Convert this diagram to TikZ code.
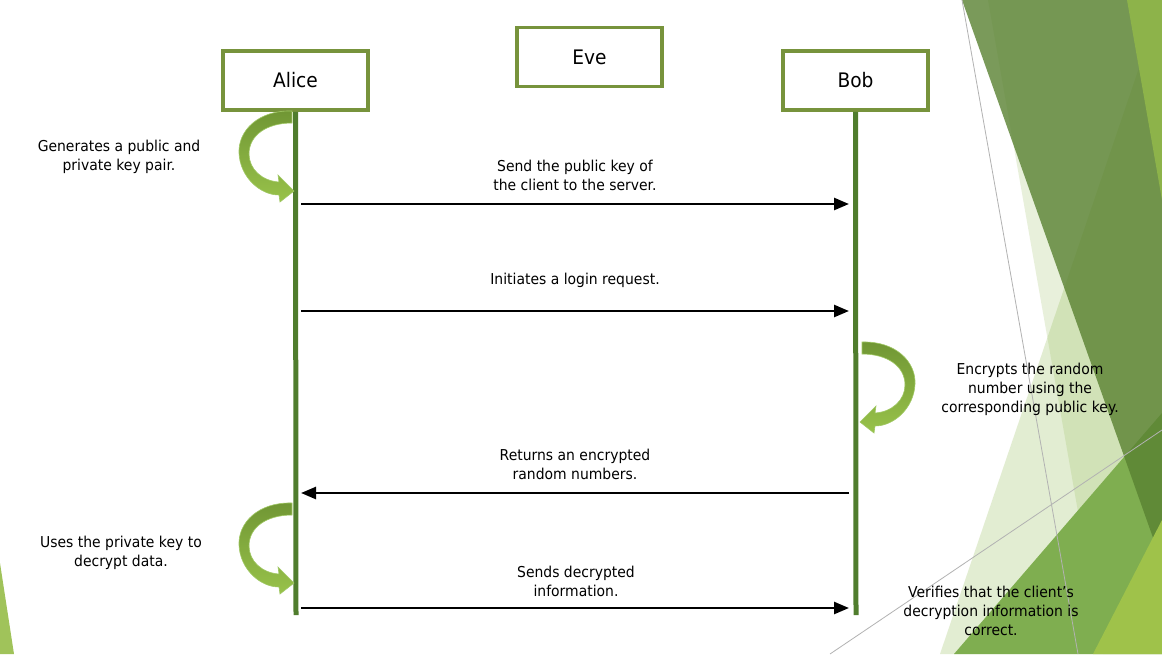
\documentclass[tikz,border=0pt]{standalone}
\usepackage{fontspec}
\setmainfont{DejaVu Sans}[FakeStretch=0.93]
\usetikzlibrary{arrows.meta}
\definecolor{boxgreen}{RGB}{119,147,60}
\definecolor{lifegreen}{RGB}{80,125,45}
\definecolor{cgtop}{RGB}{112,150,52}
\definecolor{cgbot}{RGB}{152,194,74}
\definecolor{cgedge}{RGB}{160,200,100}
\definecolor{paleg}{RGB}{143,184,79}
\definecolor{darkg}{RGB}{89,129,49}
\definecolor{medg}{RGB}{127,174,80}
\definecolor{stripg}{RGB}{141,179,74}
\definecolor{yelg}{RGB}{159,194,74}
\definecolor{cornerg}{RGB}{160,195,90}
\tikzset{
  actor/.style={draw=boxgreen, line width=3.5pt, fill=white, minimum width=145pt, minimum height=59pt, inner sep=0pt, font=\fontsize{20}{24}\selectfont},
  life/.style={draw=lifegreen, line width=5pt},
  msg/.style={draw=black, line width=2.5pt, -{Triangle[length=15pt,width=12pt]}},
  note/.style={align=center, inner sep=0pt, font=\fontsize{15}{19}\selectfont},
  curvearrow/.style={top color=cgtop, bottom color=cgbot, draw=cgedge, line width=0.6pt},
  faintline/.style={draw=black!30, line width=0.8pt}
}
\newcommand{\curvshape}{%
  (0,0) .. controls (-34,-1) and (-54,20) .. (-53,42)
  .. controls (-52,66) and (-32,84) .. (-13,84)
  -- (-12,91) -- (2,80) -- (-14,64) -- (-13,71)
  .. controls (-30,70) and (-43,58) .. (-43,43)
  .. controls (-43,24) and (-25,12) .. (0,12) -- cycle}
\begin{document}
\begin{tikzpicture}[x=1pt,y=-1pt]
\useasboundingbox (0,0) rectangle (1162,654);
\fill[white] (0,0) rectangle (1162,654);
% background facets
\fill[paleg, opacity=0.25] (1162,0) -- (940,654) -- (1162,654) -- cycle;
\fill[paleg, opacity=0.2] (988,0) -- (1103,654) -- (1162,654) -- (1162,0) -- cycle;
\fill[medg] (1162,413) -- (954,654) -- (1162,654) -- cycle;
\fill[darkg, opacity=0.8] (962,0) -- (1162,0) -- (1162,563) -- cycle;
\fill[stripg] (1127,0) -- (1162,0) -- (1162,200) -- cycle;
\fill[yelg] (1162,520) -- (1093,654) -- (1162,654) -- cycle;
\draw[faintline] (962,0) -- (1078,654);
\draw[faintline] (830,654) -- (1162,430);
\fill[cornerg] (0,563) -- (14,654) -- (0,654) -- cycle;
% actors
\node[actor] (alice) at (295.5,80.5) {Alice};
\node[actor] (eve) at (589.5,57) {Eve};
\node[actor] (bob) at (855.5,80.5) {Bob};
% lifelines
\coordinate (aend) at (296,615);
\coordinate (bend) at (856,615);
\draw[life] (alice.south) -- (aend);
\draw[life] (bob.south) -- (bend);
% self arrows
\begin{scope}[shift={(292,111)}]
  \shade[curvearrow] \curvshape;
\end{scope}
\begin{scope}[shift={(862,342)}, xscale=-1]
  \shade[curvearrow] \curvshape;
\end{scope}
\begin{scope}[shift={(292,503)}]
  \shade[curvearrow] \curvshape;
\end{scope}
% message end points
\coordinate (a1) at (301,204); \coordinate (b1) at (849,204);
\coordinate (a2) at (301,311); \coordinate (b2) at (849,311);
\coordinate (a3) at (301,493); \coordinate (b3) at (849,493);
\coordinate (a4) at (301,608); \coordinate (b4) at (849,608);
\draw[msg] (a1) -- (b1);
\draw[msg] (a2) -- (b2);
\draw[msg] (b3) -- (a3);
\draw[msg] (a4) -- (b4);
% labels
\node[note] (m1) at (575,175) {Send the public key of\\the client to the server.};
\node[note] (m2) at (575,280) {Initiates a login request.};
\node[note] (m3) at (575,464.5) {Returns an encrypted\\random numbers.};
\node[note] (m4) at (576,581) {Sends decrypted\\information.};
\node[note] (n1) at (119,157) {Generates a public and\\private key pair.};
\node[note] (n2) at (1030,389.5) {Encrypts the random\\number using the\\corresponding public key.};
\node[note] (n3) at (121,552.5) {Uses the private key to\\decrypt data.};
\node[note] (n4) at (991,610.5) {Verifies that the client’s\\decryption information is\\correct.};
\end{tikzpicture}
\end{document}
